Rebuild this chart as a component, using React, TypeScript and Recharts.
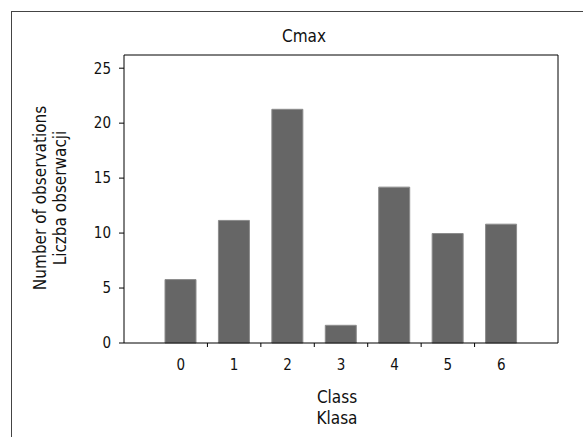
import { BarChart, Bar, XAxis, YAxis, Label } from 'recharts';

const classes = ['0', '1', '2', '3', '4', '5', '6'];
const observations = [5.77, 11.15, 21.26, 1.61, 14.18, 9.96, 10.81];
const yTicks = [0, 5, 10, 15, 20, 25];

const FONT = "'DejaVu Sans Condensed', 'Liberation Sans Narrow', Roboto, sans-serif";
const BAND = (583 - 124 - 25 - 60) / classes.length;

const data = classes.map((c, i) => ({ cls: c, count: observations[i] }));

const ClassTick = (props: any) => {
  const { x, y, payload, index } = props;
  return (
    <g>
      {index > 0 && (
        <line x1={x - BAND / 2} y1={y} x2={x - BAND / 2} y2={y + 4} stroke="#000" />
      )}
      <text x={x} y={y + 27} textAnchor="middle" fontSize={15} fontFamily={FONT} fill="#111">
        {payload.value}
      </text>
    </g>
  );
};

const App = () => {
  return (
    <div style={{ position: 'absolute', left: 0, top: 0, width: 583, height: 437, background: '#fff' }}>
      <div
        style={{
          position: 'absolute',
          left: 11,
          top: 11,
          right: 0,
          bottom: 0,
          borderTop: '1px solid #444',
          borderLeft: '1px solid #444',
        }}
      />
      <div style={{ position: 'absolute', left: 0, top: 0 }}>
        <BarChart
          width={583}
          height={437}
          data={data}
          margin={{ top: 54, right: 24, left: 0, bottom: 64 }}
        >
          <XAxis
            dataKey="cls"
            height={30}
            padding={{ left: 30, right: 30 }}
            axisLine={{ stroke: '#000' }}
            tickLine={false}
            tickSize={0}
            tickMargin={0}
            tick={<ClassTick />}
            interval={0}
          >
            <Label
              content={(p: any) => {
                const vb = p.viewBox;
                const cx = vb.x + vb.width / 2 - 4;
                return (
                  <g fontFamily={FONT} fontSize={17} fill="#111">
                    <text x={cx} y={403} textAnchor="middle">Class</text>
                    <text x={cx} y={424} textAnchor="middle">Klasa</text>
                  </g>
                );
              }}
            />
          </XAxis>
          <XAxis
            xAxisId="top"
            dataKey="cls"
            orientation="top"
            height={1}
            tick={false}
            tickLine={false}
            axisLine={{ stroke: '#000' }}
            label={{ value: 'Cmax', position: 'insideTop', dx: -37, dy: -29, fontSize: 17, fontFamily: FONT, fill: '#111' }}
          />
          <YAxis
            width={124}
            domain={[0, 26.2]}
            ticks={yTicks}
            tickSize={5}
            tickMargin={8}
            axisLine={{ stroke: '#000' }}
            tickLine={{ stroke: '#000' }}
            tick={{ fontSize: 15, fontFamily: FONT, fill: '#111' }}
          >
            <Label
              content={(p: any) => {
                const vb = p.viewBox;
                const cy = vb.y + vb.height / 2 - 1;
                const x1 = vb.x + 46;
                const x2 = vb.x + 66;
                return (
                  <g fontFamily={FONT} fontSize={17} fill="#111">
                    <text x={x1} y={cy} textAnchor="middle" transform={`rotate(-90 ${x1} ${cy})`}>
                      Number of observations
                    </text>
                    <text x={x2} y={cy} textAnchor="middle" transform={`rotate(-90 ${x2} ${cy})`}>
                      Liczba obserwacji
                    </text>
                  </g>
                );
              }}
            />
          </YAxis>
          <YAxis
            yAxisId="right"
            orientation="right"
            width={1}
            domain={[0, 26.2]}
            tick={false}
            tickLine={false}
            axisLine={{ stroke: '#000' }}
          />
          <Bar
            dataKey="count"
            fill="#666666"
            stroke="#8c8c8c"
            strokeWidth={1}
            barSize={31}
            isAnimationActive={false}
          />
        </BarChart>
      </div>
    </div>
  );
};

export default App;
